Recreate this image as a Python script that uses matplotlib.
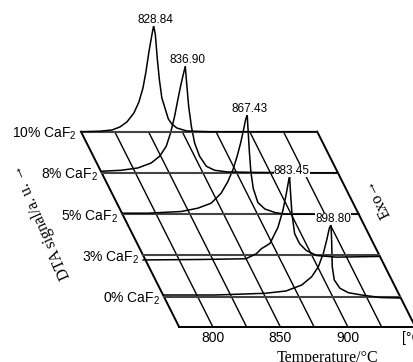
## DTA curves of the glass series, drawn as a slanted waterfall plot
import numpy as np
import matplotlib.pyplot as plt

plt.rcParams['mathtext.fontset'] = 'custom'
plt.rcParams['mathtext.rm'] = 'Liberation Sans'
plt.rcParams['mathtext.it'] = 'Liberation Sans'

## DATA
row_labels = ['0% CaF$_2$', '3% CaF$_2$', '5% CaF$_2$', '8% CaF$_2$', '10% CaF$_2$']
peak_temps = [898.80, 883.45, 867.43, 836.90, 828.84]
tick_temps = [800, 850, 900]
grid_temps = [800, 825, 850, 875, 900, 925]

# temperature (C) and signal (a.u.) for every row, front to back
t_0 = [775.0, 812.8, 849.9, 865.4, 877.1, 884.5, 889.4, 893.1, 895.6, 897.5, 898.80,
       899.3, 899.7, 901.2, 905.4, 911.6, 921.5, 935.1, 950.0]
s_0 = [1.7, 1.7, 3.4, 5.7, 11.7, 20.0, 30.0, 43.4, 56.7, 68.4, 71.7,
       53.4, 30.0, 16.7, 8.4, 4.0, 1.7, -0.8, -1.3]

t_3 = [775.0, 819.2, 851.0, 858.8, 862.5, 868.9, 874.8, 878.5, 881.0, 883.0, 883.45,
       884.2, 885.2, 887.2, 890.9, 895.8, 903.2, 918.0, 950.0]
s_3 = [-4.5, -4.0, -3.3, 1.7, 6.7, 12.0, 28.0, 45.0, 61.7, 76.7, 78.3,
       61.7, 41.7, 21.7, 11.7, 5.0, 0.0, -1.7, -1.0]

t_5 = [775.0, 793.8, 818.5, 830.8, 840.7, 848.1, 853.1, 856.8, 859.9, 862.5, 864.7, 866.2,
       867.43, 867.9, 869.0, 870.1, 871.9, 875.3, 880.5, 887.9, 895.3, 950.0]
s_5 = [1.0, 1.0, 2.7, 6.0, 11.0, 21.0, 32.7, 44.4, 57.7, 71.0, 84.4, 94.4,
       99.4, 87.7, 62.7, 42.7, 25.7, 11.7, 5.2, 1.7, 0.0, 0.0]

t_8 = [775.0, 789.5, 801.8, 811.7, 817.9, 822.8, 826.0, 829.0, 831.4, 833.4, 835.1,
       836.90, 837.9, 839.4, 841.4, 843.8, 847.5, 852.5, 858.6, 868.5, 890.0, 950.0]
s_8 = [1.7, 2.7, 5.0, 10.0, 16.7, 26.7, 40.0, 56.7, 73.4, 86.7, 96.7,
       106.7, 90.0, 66.7, 46.7, 30.0, 16.7, 6.7, 2.7, 1.0, 0.5, 0.0]

t_10 = [775.0, 789.0, 798.0, 803.8, 809.0, 814.2, 817.9, 820.9, 823.1, 825.3, 827.5,
        828.84, 830.1, 831.6, 833.1, 834.9, 837.2, 839.7, 842.3, 846.0, 853.4, 870.0, 950.0]
s_10 = [0.0, 0.5, 1.7, 4.7, 9.7, 18.7, 29.7, 43.7, 59.7, 79.7, 96.7,
        106.0, 96.7, 71.7, 51.7, 33.7, 23.7, 12.7, 7.7, 3.7, 0.7, 0.0, 0.0]

curves = [(t_0, s_0), (t_3, s_3), (t_5, s_5), (t_8, s_8), (t_10, s_10)]

## GEOMETRY of the slanted floor
T_MIN, T_MAX = 775, 950
ROW_GAP = 41.25     # depth between two rows
FRONT = 30          # depth from the front edge to the first row
SKEW = 0.3723       # temperature shift to the left per unit of depth
DEPTH = FRONT + ROW_GAP * (len(row_labels) - 1)


def project(t, h, s=0):
    '''Map temperature t at depth h with signal s onto the flat axes'''
    t = np.asarray(t, dtype=float)
    h = np.asarray(h, dtype=float)
    s = np.asarray(s, dtype=float)
    return t - SKEW * h, h - FRONT + s


fig = plt.figure(figsize=(4.14, 3.62), dpi=100)
ax = fig.add_axes([0, 0, 1, 1])
ax.set_xlim(642.41, 949.08)
ax.set_ylim(-65.3, 296.7)
ax.axis('off')

# floor outline
for t in (T_MIN, T_MAX):
    x, y = project([t, t], [0, DEPTH])
    ax.plot(x, y, color='black', lw=1.4)
x, y = project([T_MIN, T_MAX], [0, 0])
ax.plot(x, y, color='black', lw=1.4)

# slanted temperature grid
for t in grid_temps:
    x, y = project([t, t], [0, DEPTH])
    ax.plot(x, y, color='black', lw=1.0)

# one row per composition
for i, (label, (t, s), tp) in enumerate(zip(row_labels, curves, peak_temps)):
    h = FRONT + ROW_GAP * i
    x, y = project([T_MIN, T_MAX], [h, h])
    ax.plot(x, y, color='#444444', lw=1.5)

    x, y = project(t, h, s)
    ax.plot(x, y, color='black', lw=1.1)

    # composition name left of the row
    x0, y0 = project(T_MIN, h)
    ax.annotate(label, (x0, y0), xytext=(-4, -6), textcoords='offset pixels',
                ha='right', va='baseline', fontsize=10, family='Liberation Sans')

    # peak temperature above the maximum
    xp, yp = project(tp, h, s[t.index(tp)])
    ax.annotate('%.2f' % tp, (xp, yp), xytext=(2, 6), textcoords='offset pixels',
                ha='center', va='center', fontsize=8.5, family='Liberation Sans',
                bbox=dict(facecolor='white', edgecolor='none', pad=0))

# tick labels under the front edge
for t in tick_temps:
    x, y = project(t, 0)
    ax.text(x, y - 11.5, str(t), ha='center', va='center', fontsize=10,
            family='Liberation Sans')
x, y = project(T_MAX, 0)
ax.annotate('[°C]', (x, y - 11.5), xytext=(-13, 0), textcoords='offset pixels',
            ha='left', va='center', fontsize=10, family='Liberation Sans',
            annotation_clip=False)

ax.text(0.79, 0.012, 'Temperature/°C', transform=ax.transAxes, ha='center',
        va='center', fontsize=11.5, family=['Liberation Serif', 'DejaVu Serif'])
ax.text(0.101, 0.387, 'DTA signal/a. u. \u2192', transform=ax.transAxes,
        ha='center', va='center', rotation=114, rotation_mode='anchor',
        fontsize=11.5, family=['Liberation Serif', 'DejaVu Serif'])
ax.text(0.911, 0.453, 'Exo\u2192', transform=ax.transAxes,
        ha='center', va='center', rotation=117, rotation_mode='anchor',
        fontsize=11.5, family=['Liberation Serif', 'DejaVu Serif'])

fig.savefig('out.png', dpi=100)
